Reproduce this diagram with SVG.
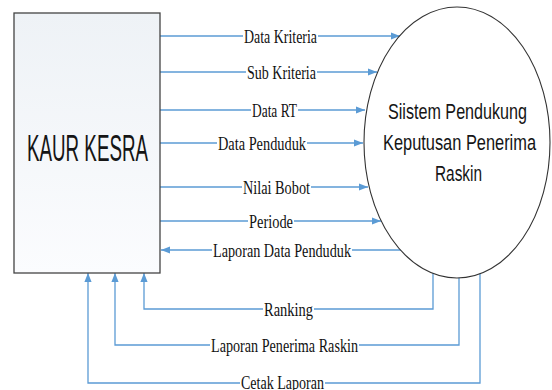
<svg xmlns="http://www.w3.org/2000/svg" width="552" height="390" viewBox="0 0 552 390">
  <style>
    .flow { fill: none; stroke: #5b9bd5; stroke-width: 1.3; }
    .lbl { font-family: "Liberation Serif", "Times New Roman", serif; font-size: 18.5px; fill: #111; }
    .pad { fill: #ffffff; }
    .title { font-family: "Liberation Sans", Arial, sans-serif; fill: #151515; }
  </style>
  <defs>
    <marker id="arrow" viewBox="0 0 10 8" refX="10" refY="4" markerWidth="9" markerHeight="7.5" orient="auto" markerUnits="userSpaceOnUse">
      <path d="M0,0 L10,4 L0,8 z" fill="#5b9bd5"/>
    </marker>
    <linearGradient id="boxFill" x1="0" y1="0" x2="0" y2="1">
      <stop offset="0" stop-color="#eef2f6"/>
      <stop offset="1" stop-color="#fbfcfe"/>
    </linearGradient>
  </defs>

  <!-- connectors (drawn under the nodes) -->
  <g id="connectors">
    <path class="flow" d="M160,36 H400" marker-end="url(#arrow)"/>
    <path class="flow" d="M160,72 H377" marker-end="url(#arrow)"/>
    <path class="flow" d="M160,110 H365" marker-end="url(#arrow)"/>
    <path class="flow" d="M160,143 H363" marker-end="url(#arrow)"/>
    <path class="flow" d="M160,187 H368" marker-end="url(#arrow)"/>
    <path class="flow" d="M160,221 H381" marker-end="url(#arrow)"/>
    <path class="flow" d="M410,250 H161" marker-end="url(#arrow)"/>
    <path class="flow" d="M433,260 V309 H144 V273" marker-end="url(#arrow)"/>
    <path class="flow" d="M459,260 V345 H115 V273" marker-end="url(#arrow)"/>
    <path class="flow" d="M480,260 V383 H88 V273" marker-end="url(#arrow)"/>

    <!-- label backgrounds -->
    <rect class="pad" x="243" y="29" width="75" height="14"/>
    <rect class="pad" x="246" y="65" width="71" height="14"/>
    <rect class="pad" x="251" y="103" width="47" height="14"/>
    <rect class="pad" x="217" y="136" width="90" height="14"/>
    <rect class="pad" x="242" y="180" width="69" height="14"/>
    <rect class="pad" x="248" y="214" width="46" height="14"/>
    <rect class="pad" x="212" y="243" width="140" height="14"/>
    <rect class="pad" x="263" y="302" width="51" height="14"/>
    <rect class="pad" x="210" y="338" width="149" height="14"/>
    <rect class="pad" x="240" y="376" width="85" height="14"/>

    <text class="lbl" x="244" y="42.5" textLength="73" lengthAdjust="spacingAndGlyphs">Data Kriteria</text>
    <text class="lbl" x="247" y="78.5" textLength="69" lengthAdjust="spacingAndGlyphs">Sub Kriteria</text>
    <text class="lbl" x="252" y="116.5" textLength="45" lengthAdjust="spacingAndGlyphs">Data RT</text>
    <text class="lbl" x="218" y="149.5" textLength="88" lengthAdjust="spacingAndGlyphs">Data Penduduk</text>
    <text class="lbl" x="243" y="193.5" textLength="67" lengthAdjust="spacingAndGlyphs">Nilai Bobot</text>
    <text class="lbl" x="249" y="227.5" textLength="44" lengthAdjust="spacingAndGlyphs">Periode</text>
    <text class="lbl" x="213" y="256.5" textLength="138" lengthAdjust="spacingAndGlyphs">Laporan Data Penduduk</text>
    <text class="lbl" x="264" y="315.5" textLength="49" lengthAdjust="spacingAndGlyphs">Ranking</text>
    <text class="lbl" x="211" y="351.5" textLength="147" lengthAdjust="spacingAndGlyphs">Laporan Penerima Raskin</text>
    <text class="lbl" x="241" y="389" textLength="83" lengthAdjust="spacingAndGlyphs">Cetak Laporan</text>
  </g>

  <!-- external entity -->
  <g id="kaur-kesra">
    <rect x="14" y="13" width="146" height="260" fill="url(#boxFill)" stroke="#444" stroke-width="1.3"/>
    <text class="title" x="27" y="161" font-size="36" textLength="121" lengthAdjust="spacingAndGlyphs">KAUR KESRA</text>
  </g>

  <!-- process -->
  <g id="spk-raskin">
    <ellipse cx="457" cy="142.5" rx="93" ry="135.5" fill="#ffffff" stroke="#333" stroke-width="1.1"/>
    <text class="title" x="388" y="119" font-size="22" textLength="139" lengthAdjust="spacingAndGlyphs">Siistem Pendukung</text>
    <text class="title" x="383" y="150" font-size="22" textLength="153" lengthAdjust="spacingAndGlyphs">Keputusan Penerima</text>
    <text class="title" x="435" y="181" font-size="22" textLength="47" lengthAdjust="spacingAndGlyphs">Raskin</text>
  </g>
</svg>
